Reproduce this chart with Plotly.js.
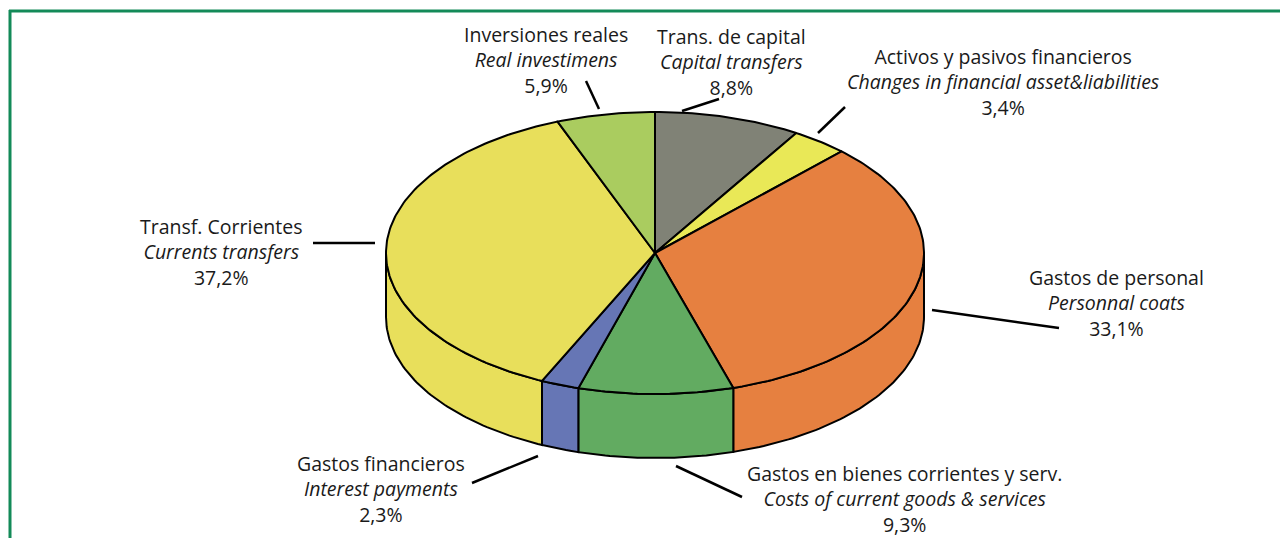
<!DOCTYPE html>
<html>
<head>
<meta charset="utf-8">
<script src="https://cdn.plot.ly/plotly-3.0.1.min.js"></script>
<style>html,body{margin:0;padding:0;background:#fff;}#chart{width:1280px;height:538px;}</style>
</head>
<body>
<div id="chart"></div>
<script>
// ---- data (clockwise from 12 o'clock) ----
const labelsEs = ["Trans. de capital", "Activos y pasivos financieros", "Gastos de personal", "Gastos en bienes corrientes y serv.", "Gastos financieros", "Transf. Corrientes", "Inversiones reales"];
const labelsEn = ["Capital transfers", "Changes in financial asset&liabilities", "Personnal coats", "Costs of current goods & services", "Interest payments", "Currents transfers", "Real investimens"];
const values = [8.8, 3.4, 33.1, 9.3, 2.3, 37.2, 5.9];
const valueText = ["8,8%", "3,4%", "33,1%", "9,3%", "2,3%", "37,2%", "5,9%"];
const colors = ["#808276", "#e9e857", "#e68040", "#62ab61", "#6676b5", "#e8df5b", "#aacc5f"];

// ---- layout geometry ----
const CX = 655, CY = 253, RX = 269, RY = 141, DEPTH = 64;
const labelPos = [ // [x, y(middle line), line from, line to]
  [731, 62, [682,111], [719,99]],
  [1003, 82, [818,133], [845,107]],
  [1116, 303, [932,310], [1059,328]],
  [904, 499, [676,466], [742,497]],
  [381, 489, [538,456], [472,483]],
  [221, 252, [375,243], [313,243]],
  [546, 60, [599,109], [586,81]]
];

function pt(deg, dy) {
  const t = deg * Math.PI / 180;
  return [CX + RX * Math.sin(t), CY - RY * Math.cos(t) + dy];
}
function arc(a, b, dy) {
  const pts = [];
  const n = Math.max(2, Math.ceil(Math.abs(b - a)));
  for (let i = 0; i <= n; i++) pts.push(pt(a + (b - a) * i / n, dy));
  return pts;
}

const total = values.reduce((s, v) => s + v, 0);
const slices = [];
let acc = 0;
values.forEach((v, i) => {
  const a0 = acc / total * 360;
  acc += v;
  const a1 = acc / total * 360;
  slices.push([a0, a1]);
});

const traces = [];
// sides (front half: 90..270 degrees)
slices.forEach(([a0, a1], i) => {
  const a = Math.max(a0, 90), b = Math.min(a1, 270);
  if (b <= a) return;
  const pts = arc(a, b, 0).concat(arc(b, a, DEPTH));
  pts.push(pts[0]);
  traces.push({
    type: "scatter", mode: "lines", fill: "toself",
    x: pts.map(p => p[0]), y: pts.map(p => p[1]),
    fillcolor: colors[i], line: {color: "#000", width: 2},
    hoverinfo: "skip", showlegend: false
  });
});
// top faces
slices.forEach(([a0, a1], i) => {
  const pts = [[CX, CY]].concat(arc(a0, a1, 0));
  pts.push([CX, CY]);
  traces.push({
    type: "scatter", mode: "lines", fill: "toself",
    x: pts.map(p => p[0]), y: pts.map(p => p[1]),
    fillcolor: colors[i], line: {color: "#000", width: 2},
    hoverinfo: "skip", showlegend: false
  });
});

const annotations = labelsEs.map((l, i) => ({
  x: labelPos[i][0], y: labelPos[i][1], xref: "x", yref: "y",
  xanchor: "center", yanchor: "middle", showarrow: false, align: "center",
  text: l + "<br><i>" + labelsEn[i] + "</i><br>" + valueText[i],
  font: {family: "Open Sans, sans-serif", size: 19.5, color: "#1a1a1a"}
}));

const shapes = labelPos.map(p => ({
  type: "line", xref: "x", yref: "y",
  x0: p[2][0], y0: p[2][1], x1: p[3][0], y1: p[3][1],
  line: {color: "#000", width: 2.5}
}));
shapes.push({type: "line", xref: "x", yref: "y", x0: 9, y0: 11, x1: 1280, y1: 11, line: {color: "#138a58", width: 3}});
shapes.push({type: "line", xref: "x", yref: "y", x0: 10, y0: 10, x1: 10, y1: 538, line: {color: "#138a58", width: 3}});

const layout = {
  width: 1280, height: 538,
  margin: {l: 0, r: 0, t: 0, b: 0},
  paper_bgcolor: "#ffffff", plot_bgcolor: "#ffffff",
  xaxis: {range: [0, 1280], visible: false, fixedrange: true},
  yaxis: {range: [538, 0], visible: false, fixedrange: true},
  showlegend: false,
  annotations: annotations,
  shapes: shapes
};

Plotly.newPlot("chart", traces, layout, {displayModeBar: false, staticPlot: true});
</script>
</body>
</html>
